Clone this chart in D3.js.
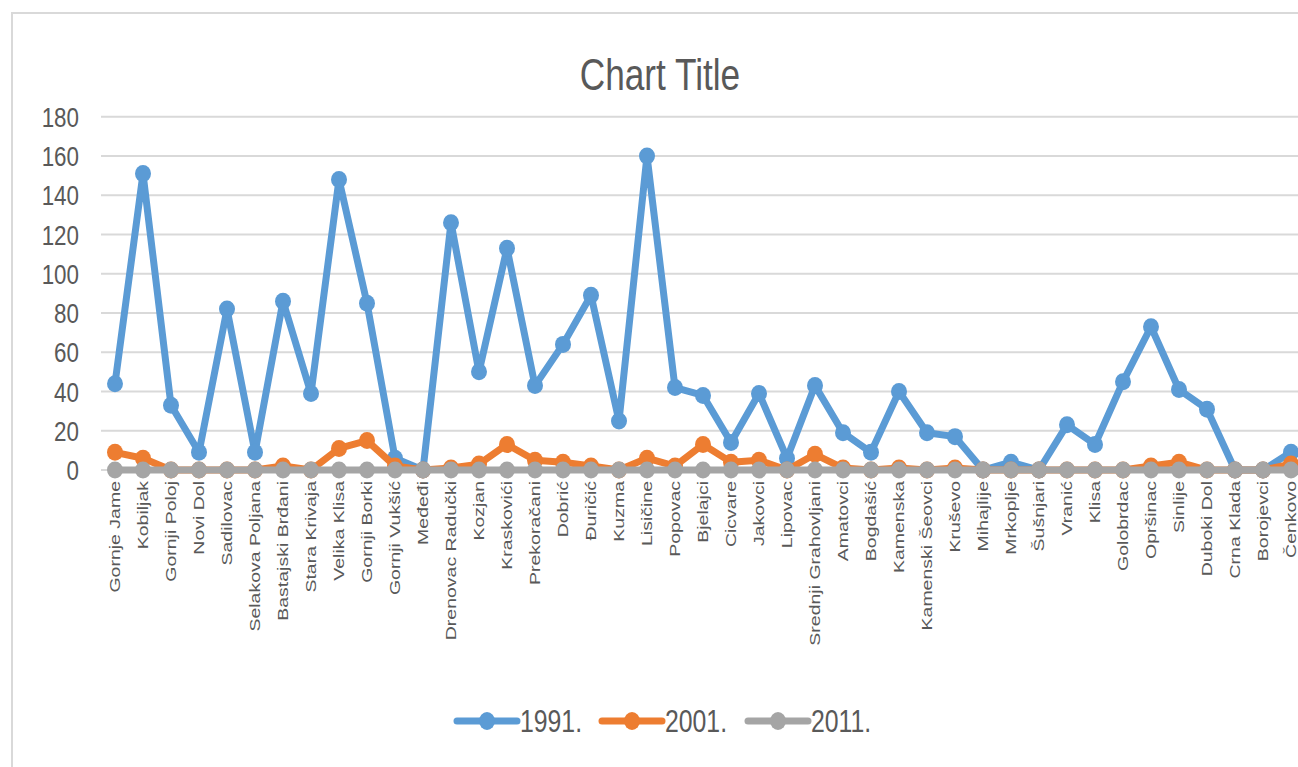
<!DOCTYPE html>
<html>
<head>
<meta charset="utf-8">
<script src="https://cdn.jsdelivr.net/npm/d3@7"></script>
<style>
  html, body { margin: 0; padding: 0; background: #fff; }
  svg { display: block; }
</style>
</head>
<body>
<svg id="chart" width="1298" height="767"></svg>
<script>
const categories = ["Gornje Jame","Kobiljak","Gornji Poloj","Novi Dol","Sadilovac","Selakova Poljana","Bastajski Brđani","Stara Krivaja","Velika Klisa","Gornji Borki","Gornji Vukšić","Međeđi","Drenovac Radučki","Kozjan","Kraskovići","Prekoračani","Dobrić","Đuričić","Kuzma","Lisičine","Popovac","Bjelajci","Cicvare","Jakovci","Lipovac","Srednji Grahovljani","Amatovci","Bogdašić","Kamenska","Kamenski Šeovci","Kruševo","Mihajlije","Mrkoplje","Šušnjari","Vranić","Klisa","Golobrdac","Opršinac","Sinlije","Duboki Dol","Crna Klada","Borojevci","Čenkovo"];
const values1991 = [44,151,33,9,82,9,86,39,148,85,6,0,126,50,113,43,64,89,25,160,42,38,14,39,6,43,19,9,40,19,17,0,4,0,23,13,45,73,41,31,0,0,9];
const values2001 = [9,6,0,0,0,0,2,0,11,15,2,0,1,3,13,5,4,2,0,6,2,13,4,5,0,8,1,0,1,0,1,0,0,0,0,0,0,2,4,0,0,0,3];
const values2011 = categories.map(() => 0);
const seriesNames = ["1991.","2001.","2011."];
const seriesColors = ["#5b9bd5","#ed7d31","#a5a5a5"];
const yTicks = [0,20,40,60,80,100,120,140,160,180];

const series = [values1991, values2001, values2011];
const svg = d3.select("#chart");
const textColor = "#595959";
const SX = 0.8;

// chart border
svg.append("rect").attr("x", 12).attr("y", 13).attr("width", 1400).attr("height", 900)
  .attr("fill", "none").attr("stroke", "#d9d9d9").attr("stroke-width", 2);

const x = d3.scalePoint().domain(categories).range([101, 1305]).padding(0.5);
const y = d3.scaleLinear().domain([0, 180]).range([470, 116.7]);

// gridlines
svg.append("g").selectAll("line").data(yTicks).join("line")
  .attr("x1", 101).attr("x2", 1298)
  .attr("y1", d => y(d)).attr("y2", d => y(d))
  .attr("stroke", "#d9d9d9").attr("stroke-width", 2);

// y tick labels
svg.append("g").selectAll("text").data(yTicks).join("text")
  .attr("transform", d => `translate(79,${y(d)}) scale(${SX},1)`)
  .attr("text-anchor", "end").attr("dy", "0.36em")
  .attr("font-family", "Liberation Sans, Arial, sans-serif")
  .attr("font-size", 28).attr("fill", textColor)
  .text(d => d);

// x labels
svg.append("g").selectAll("text").data(categories).join("text")
  .attr("transform", d => `translate(${x(d)},481) rotate(-90) scale(1,0.74)`)
  .attr("text-anchor", "end").attr("dy", "0.36em")
  .attr("font-family", "Liberation Sans, Arial, sans-serif")
  .attr("font-size", 19.5).attr("fill", textColor)
  .text(d => d);

// lines and markers
const line = d3.line().x((d, i) => x(categories[i])).y(d => y(d));
series.forEach((vals, si) => {
  const g = svg.append("g");
  g.append("path").datum(vals).attr("d", line)
    .attr("fill", "none").attr("stroke", seriesColors[si])
    .attr("stroke-width", 7).attr("stroke-linejoin", "round");
  g.selectAll("ellipse").data(vals).join("ellipse")
    .attr("cx", (d, i) => x(categories[i])).attr("cy", d => y(d))
    .attr("rx", 8).attr("ry", 8.5).attr("fill", seriesColors[si]);
});

// title
svg.append("text")
  .attr("transform", `translate(660,90) scale(${SX},1)`)
  .attr("text-anchor", "middle")
  .attr("font-family", "Liberation Sans, Arial, sans-serif")
  .attr("font-size", 44).attr("fill", textColor)
  .text("Chart Title");

// legend
const legendX = [457, 602, 748];
seriesNames.forEach((name, i) => {
  const g = svg.append("g").attr("transform", `translate(${legendX[i]},721)`);
  g.append("line").attr("x1", 0).attr("x2", 60).attr("y1", 0).attr("y2", 0)
    .attr("stroke", seriesColors[i]).attr("stroke-width", 7).attr("stroke-linecap", "round");
  g.append("ellipse").attr("cx", 30).attr("cy", 0).attr("rx", 8).attr("ry", 9).attr("fill", seriesColors[i]);
  g.append("text").attr("transform", `translate(63,0) scale(${SX},1)`)
    .attr("dy", "0.36em")
    .attr("font-family", "Liberation Sans, Arial, sans-serif")
    .attr("font-size", 31).attr("fill", textColor)
    .text(name);
});
</script>
</body>
</html>
